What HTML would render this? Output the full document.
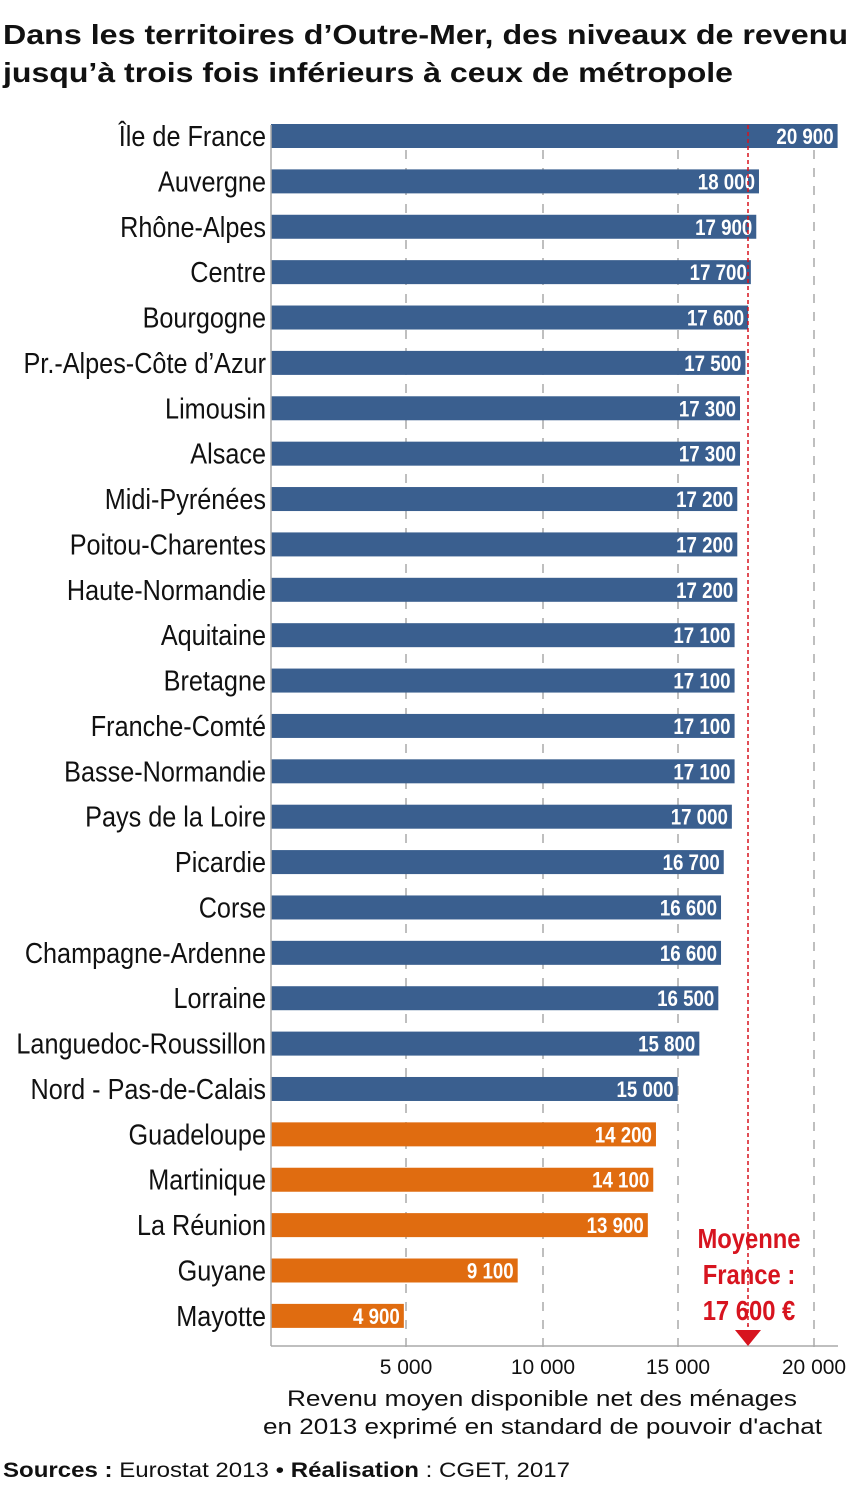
<!DOCTYPE html>
<html><head><meta charset="utf-8"><style>
body{margin:0;background:#fff;}
svg{display:block;}
.lab{font-family:"Liberation Sans",sans-serif;font-size:29px;fill:#111;text-anchor:end;}
.val{font-family:"Liberation Sans",sans-serif;font-size:22px;font-weight:bold;fill:#fff;text-anchor:end;}
.tick{font-family:"Liberation Sans",sans-serif;font-size:21px;fill:#111;text-anchor:middle;}
</style></head><body>
<svg width="852" height="1489" viewBox="0 0 852 1489" xmlns="http://www.w3.org/2000/svg">
<text x="3" y="44" font-family="Liberation Sans,sans-serif" font-weight="bold" font-size="28" fill="#111" textLength="845" lengthAdjust="spacingAndGlyphs">Dans les territoires d’Outre-Mer, des niveaux de revenu</text>
<text x="3" y="82" font-family="Liberation Sans,sans-serif" font-weight="bold" font-size="28" fill="#111" textLength="730" lengthAdjust="spacingAndGlyphs">jusqu’à trois fois inférieurs à ceux de métropole</text>
<g stroke="#aaa" stroke-width="1.5" stroke-dasharray="9,9">
<line x1="406" y1="150" x2="406" y2="1350"/><line x1="543" y1="150" x2="543" y2="1350"/>
<line x1="678" y1="150" x2="678" y2="1350"/><line x1="814" y1="150" x2="814" y2="1350"/>
</g>
<g id="bars"></g>
<line x1="271" y1="125" x2="271" y2="1346" stroke="#aaa" stroke-width="1.5"/>
<line x1="271" y1="1346" x2="838" y2="1346" stroke="#aaa" stroke-width="1.5"/>
<line x1="748" y1="125" x2="748" y2="1328" stroke="#d7141f" stroke-width="1.5" stroke-dasharray="4,3"/>
<rect x="690" y="1225" width="118" height="100" fill="#fff"/>
<line x1="748" y1="1225" x2="748" y2="1328" stroke="#d7141f" stroke-width="1.5" stroke-dasharray="4,3"/>
<polygon points="735,1330 761,1330 748,1346" fill="#d7141f"/>
<g font-family="Liberation Sans,sans-serif" font-weight="bold" font-size="28" fill="#d7141f" text-anchor="middle" transform="translate(749,0) scale(0.85,1)">
<text x="0" y="1248">Moyenne</text><text x="0" y="1284">France :</text><text x="0" y="1320">17 600 €</text></g>
<text class="tick" x="406" y="1374">5 000</text><text class="tick" x="543" y="1374">10 000</text>
<text class="tick" x="678" y="1374">15 000</text><text class="tick" x="814" y="1374">20 000</text>
<text x="287" y="1406" font-family="Liberation Sans,sans-serif" font-size="22" fill="#111" textLength="510" lengthAdjust="spacingAndGlyphs">Revenu moyen disponible net des ménages</text>
<text x="263" y="1434" font-family="Liberation Sans,sans-serif" font-size="22" fill="#111" textLength="559" lengthAdjust="spacingAndGlyphs">en 2013 exprimé en standard de pouvoir d'achat</text>
<text x="3" y="1477" font-family="Liberation Sans,sans-serif" font-size="21" fill="#111" textLength="567" lengthAdjust="spacingAndGlyphs"><tspan font-weight="bold">Sources :</tspan> Eurostat 2013 • <tspan font-weight="bold">Réalisation</tspan> : CGET, 2017</text>
</svg>
<script>
const d=[["Île de France",20900],["Auvergne",18000],["Rhône-Alpes",17900],["Centre",17700],["Bourgogne",17600],["Pr.-Alpes-Côte d’Azur",17500],["Limousin",17300],["Alsace",17300],["Midi-Pyrénées",17200],["Poitou-Charentes",17200],["Haute-Normandie",17200],["Aquitaine",17100],["Bretagne",17100],["Franche-Comté",17100],["Basse-Normandie",17100],["Pays de la Loire",17000],["Picardie",16700],["Corse",16600],["Champagne-Ardenne",16600],["Lorraine",16500],["Languedoc-Roussillon",15800],["Nord - Pas-de-Calais",15000],["Guadeloupe",14200],["Martinique",14100],["La Réunion",13900],["Guyane",9100],["Mayotte",4900]];
let s="";d.forEach((r,i)=>{const c=136+i*45.38,w=r[1]*0.02711,col=i>=22?"#e06c10":"#3a5f8f";
const v=(r[1]/1000|0)+" "+String(r[1]%1000).padStart(3,"0");
s+=`<rect x="271" y="${c-12}" width="${w}" height="24" fill="${col}"/><text class="lab" transform="translate(266,${c+10}) scale(0.87,1)">${r[0]}</text><text class="val" transform="translate(${271+w-4},${c+8}) scale(0.85,1)">${v}</text>`;});
document.getElementById("bars").innerHTML=s;
</script>
</body></html>
